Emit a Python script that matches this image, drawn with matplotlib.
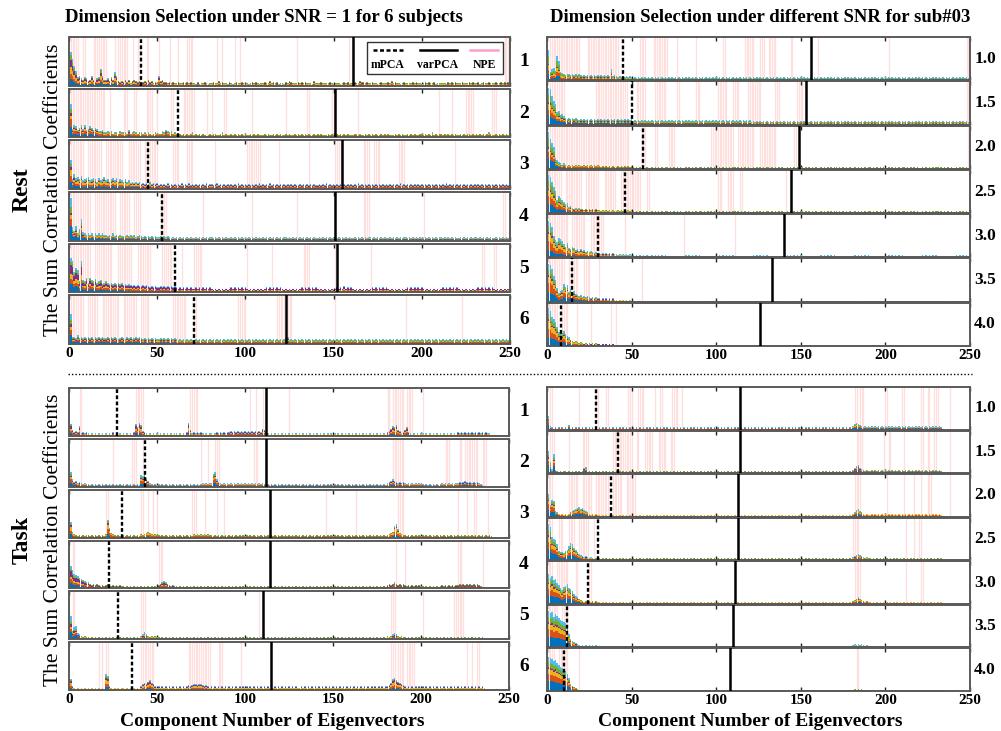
import numpy as np
import matplotlib.pyplot as plt
from matplotlib.patches import Rectangle
from matplotlib.lines import Line2D

plt.rcParams['font.family'] = ['Liberation Serif', 'DejaVu Serif']

# stacked colours (matlab default order)
COLORS = ['#0072BD', '#D95319', '#EDB120', '#7E2F8E', '#77AC30', '#4DBEEE']
PINK = '#ffdede'

# bar heights per component, one char per component (base 36, 1 unit = 2.5% of panel)
rest_subj_heights = [
    "smgc786576 4585367e85 56475b8434 3535245434 2343534232 8453323232 2322323232 2131223212 2322423221 3212322323 2123232122 3224232312 2132432223 2323222142 2232222321 2221232312 2322433232 2322123222 3242322123 2222323221 2323223122 2221323232 2232223232 2312322322 2322323232",
    "r7a968a7a6 7986875564 4545344354 4436345434 4343432343 3354654534 3232323234 2323232123 2332234232 2323232323 2232323222 3232232323 2232322323 2323232232 3232223232 2323232322 2332322323 2323223232 3222323232 2323232233 2323242323 3232323232 2323233232 3232323432 2323232323",
    "o8c9a8b789 a78986978a 7868979687 6867565656 4545464545 3434353434 3435343534 3434343534 4345343434 3434353434 3434343534 3435343434 3434343433 4343434343 3434353434 3434343434 3435343434 3434343434 3434343534 3434343434 3434343434 3435343434 3434343434 3434343434 3434343434",
    "zb8c6ai765 6564656565 5454645454 4454545345 4343434343 3434343232 3232323232 2323232323 3232323232 2323232323 2323232323 2323232323 2332323232 3232323232 2323232323 3232323232 2323232323 3232323232 2323232323 3232323232 2323232323 3232323232 2323232323 3232323232 2323232323",
    "sqhki9qa9c 8ca9b89a78 9878787878 6767656565 5656545454 4545454545 4343434343 3434343434 3232323232 3434343434 3232323232 3434343434 3232323232 3434343434 3232323232 3434353434 3232323232 3434343434 3232323232 3434343434 3232323232 3434343434 3232323232 3434343434 3232323232",
    "p665756565 6564656565 5656565456 5465645656 5454545454 4545454545 4343434343 3434343434 3434343434 3434343434 3434343434 3434343434 3456343434 3434343434 3434343434 3434343434 3434343434 3434343434 3434343434 3434343434 3434343434 3434343434 3434343434 3434343434 3434343434",
]
rest_subj_mpca = [41, 62, 45, 53, 60, 71]
rest_subj_varpca = [161, 151, 155, 151, 152, 123]
rest_subj_npe = [
    [(0, 5), (7, 9), (13, 21), (25, 26), (27, 33), (35, 36), (38, 40), (43, 45), (50, 51), (56, 57), (61, 62), (66, 70), (83, 84), (86, 87), (93, 94), (96, 97), (128, 129), (158, 159), (246, 249)],
    [(0, 20), (22, 23), (30, 33), (36, 38), (43, 47), (49, 50), (57, 59), (64, 71), (77, 78), (80, 81), (87, 89), (103, 104), (122, 123), (134, 136), (148, 150), (163, 164), (209, 210), (216, 217), (224, 229), (239, 242)],
    [(0, 8), (10, 18), (20, 30), (33, 40), (42, 50), (58, 62), (66, 70), (82, 83), (100, 108), (118, 119), (135, 136), (150, 154), (166, 170), (172, 176), (186, 190), (218, 219)],
    [(0, 12), (14, 26), (28, 34), (36, 40), (51, 55), (75, 76), (103, 104), (128, 129), (150, 151), (166, 170), (200, 201), (245, 247)],
    [(0, 12), (14, 24), (27, 35), (38, 46), (52, 58), (63, 64), (70, 75), (100, 101), (114, 115), (132, 136), (150, 151), (170, 171), (233, 235), (240, 242)],
    [(0, 8), (10, 16), (18, 28), (30, 38), (40, 45), (58, 66), (70, 72), (95, 100), (117, 126), (150, 151), (190, 191), (222, 223)],
]
rest_subj_shares = [
    [0.2, 0.15, 0.2, 0.2, 0.15, 0.1],
    [0.3, 0.25, 0.1, 0.1, 0.1, 0.15],
    [0.25, 0.2, 0.2, 0.1, 0.1, 0.15],
    [0.35, 0.15, 0.1, 0.05, 0.15, 0.2],
    [0.25, 0.15, 0.15, 0.25, 0.1, 0.1],
    [0.3, 0.15, 0.1, 0.1, 0.15, 0.2],
]

rest_snr_heights = [
    "s8ab9mi876 5665656565 4545454545 4545454a45 4343434343 2323232323 2323232323 2323232323 2323232323 2323232323 2323232323 2323232323 2323232323 2323232323 2323232323 2323232323 2323232323 2323232323 2323232323 2323232323 2323232323 2323232323 2323232323 2323232323 2323232323",
    "yxqmjcd9a8 6565656545 4545454545 4545454545 4545454545 3434343434 3434343434 3434343434 3434343434 3434343434 3434343434 3434343434 2323232323 2323232323 2323232323 2323232323 2323232323 2323232323 2323232323 2323232323 2323232323 2323232323 2323232323 2323232323 2323232323",
    "ysoka86545 4343434343 3434343434 3232323232 2323232323 2121212121 1212121212 2121212121 1212121212 2121212121 1212121212 2121212121 1212121212 2121212121 1212121212 2121212121 1212121212 2121212121 1212121212 2121212121 1212121212 2121212121 1212121212 2121212121 1212121212",
    "zxtokcgeca 8967545454 4343434343 3232323232 2323232323 2121212121 1212121212 2121212121 1212121212 2121212121 1212121212 2121212121 1212121212 2121212121 1212121212 2121212121 1212121212 2121212121 1212121212 2121212121 1212121212 2121212121 1212121212 2121212121 1212121212",
    "ywskgeihfc ad98a97868 6756565454 4343434343 3232323232 2121212121 1212121212 1111111111 1212121212 1111111111 1212121212 1111111111 1212121212 1111111111 1212121212 1111111111 1212121212 1111111111 1212121212 1111111111 1212121212 1111111111 1212121212 1111111111 1212121212",
    "zyuokd8abg ef9c8a7656 4545434343 3232323232 2121212121 1111111111 1111111111 1111111111 1111111111 1111111111 1111111111 1111111111 1111111111 1111111111 1111111111 1111111111 1111111111 1111111111 1111111111 1111111111 1111111111 1111111111 1111111111 1111111111 1111111111",
    "zwrpmiddce b986545434 3232323232 2121212121 1111111111 1111111111 1111111111 1111111111 1111111111 1111111111 1111111111 1111111111 1111111111 1111111111 1111111111 1111111111 1111111111 1111111111 1111111111 1111111111 1111111111 1111111111 1111111111 1111111111 1111111111",
]
rest_snr_mpca = [45, 50, 57, 46, 30, 15, 8]
rest_snr_varpca = [156, 153, 149, 144, 140, 133, 126]
rest_snr_npe = [
    [(1, 19), (23, 42), (54, 58), (62, 71), (76, 77), (87, 88), (103, 105), (116, 122), (125, 128), (130, 135), (143, 145), (159, 160), (201, 202), (247, 249)],
    [(1, 10), (28, 47), (52, 58), (63, 70), (76, 78), (87, 90), (100, 106), (109, 113), (118, 126), (134, 137), (147, 151), (247, 249)],
    [(1, 48), (55, 58), (63, 65), (71, 75), (96, 110), (112, 122), (125, 135), (145, 147), (248, 249)],
    [(0, 8), (10, 20), (22, 30), (33, 40), (43, 55), (58, 60), (100, 103), (106, 110), (113, 115), (140, 141)],
    [(0, 12), (14, 22), (25, 33), (45, 46), (80, 81), (110, 111)],
    [(0, 10), (12, 18), (21, 25), (30, 31), (55, 56)],
    [(0, 6), (8, 12), (17, 18), (25, 26), (37, 38), (40, 41)],
]
rest_snr_shares = [
    [0.2, 0.15, 0.15, 0.05, 0.25, 0.2],
    [0.25, 0.15, 0.15, 0.05, 0.2, 0.2],
    [0.3, 0.15, 0.1, 0.05, 0.2, 0.2],
    [0.25, 0.2, 0.15, 0.05, 0.2, 0.15],
    [0.2, 0.25, 0.2, 0.05, 0.15, 0.15],
    [0.25, 0.25, 0.15, 0.05, 0.15, 0.15],
    [0.25, 0.2, 0.2, 0.05, 0.15, 0.15],
]

task_subj_heights = [
    "a534382323 2121212121 2121312121 2121213a7b 9432121212 1212121212 2121213b52 3232321212 2123232323 3434343434 3434343436 5321212121 2121212121 2121212121 2121212121 2121212121 2121212121 2121212121 3468795423 5732121212 2121212121 2121212121 3232323232 3232323221",
    "c645343232 2121212121 2121212121 2121212121 a9b7532121 2121212121 2121212121 2121232323 3bc6432323 2323232323 2323232323 2121212121 2121212121 2121212121 2121212121 2121212121 2121212121 2121212121 3456543434 3232323232 2121212121 2323232323 3434543434 3432100000",
    "d532121212 2121212121 3f84321212 2121212121 3234543232 2121212121 2121212121 3232323232 2121212121 2121212121 2121212121 2121212121 2121212121 2121212121 2121212121 2121212121 2121212121 2121212121 2345ab7432 2121212121 2121212121 2121212121 2121212121 2121212121",
    "jfcba98765 5434343232 3432323232 2121212121 2121212121 3456543232 2121212121 2121212121 2121212121 2121212121 2121212121 2121212121 2121212121 2121212121 2121212121 2121212121 2121212121 2121212121 3434543434 3232323232 2121212121 2323232323 3434343434 3432100000",
    "j7ab543232 2121212121 2121212121 2121212121 3464323232 2121212121 2121212121 2121212121 2121212121 2121212121 2121212121 2121212121 2121212121 2121212121 2121212121 2121212121 2121212121 2121212121 3234543232 2121212121 2121212121 2121212121 2121212121 2121210000",
    "9321212121 2121212121 dc32121212 2121212121 3565786532 3232323232 3232323434 5545543432 3232323232 3232323232 3232323232 3232323232 3232323232 2323232323 2323232323 2323232323 2323232323 2323232323 3469a87654 3232323232 3232323232 3232323232 3232323232 3232321000",
]
task_subj_mpca = [27, 43, 30, 23, 28, 36]
task_subj_varpca = [112, 112, 114, 114, 110, 115]
task_subj_npe = [
    [(5, 7), (37, 42), (68, 73), (102, 103), (105, 106), (109, 110), (124, 125), (180, 182), (183, 190), (191, 195), (200, 201)],
    [(6, 7), (24, 25), (35, 38), (41, 42), (74, 75), (78, 79), (82, 85), (104, 107), (183, 190), (213, 216), (221, 223), (224, 232), (234, 237)],
    [(20, 22), (40, 42), (44, 45), (47, 48), (49, 50), (69, 72), (76, 77), (83, 84), (87, 88), (145, 146), (162, 163), (186, 190), (220, 221), (225, 226), (229, 231), (237, 238)],
    [(1, 3), (50, 53), (185, 186), (190, 191), (220, 223), (234, 235)],
    [(1, 3), (40, 43), (107, 108), (182, 185), (200, 201), (218, 224)],
    [(16, 17), (18, 19), (20, 22), (40, 48), (67, 80), (84, 87), (97, 98), (182, 185), (186, 190), (191, 196), (225, 226), (228, 229), (231, 233)],
]
task_subj_shares = [
    [0.2, 0.2, 0.2, 0.2, 0.1, 0.1],
    [0.25, 0.25, 0.15, 0.1, 0.1, 0.15],
    [0.2, 0.25, 0.25, 0.1, 0.1, 0.1],
    [0.25, 0.15, 0.1, 0.25, 0.1, 0.15],
    [0.3, 0.15, 0.1, 0.1, 0.1, 0.25],
    [0.2, 0.2, 0.25, 0.15, 0.1, 0.1],
]

task_snr_heights = [
    "d321212121 2141212121 2121212121 2121212121 2121212121 2121212121 2121212121 2121212121 2121212121 2121212121 2121212121 2121212121 2121212121 2121212121 2121212121 2121212121 2121212121 2121212121 3565432323 2323232323 2323232323 2323232323 2323232323 2321000000",
    "la4i321212 2121212121 2561212121 2121212121 3421212121 2121212121 2121212121 2121212121 2121212121 2121212121 2121212121 2121212121 2121212121 2121212121 2121212121 2121212121 2121212121 2121212121 3578543232 2323232323 2323232323 2323232323 2323232323 2321000000",
    "lbgf543232 3234567897 8654323232 2121212121 2121212121 2121212121 2121212121 2121212121 2121212121 2121212121 2121212121 2121212121 2121212121 2121212121 2121212121 2121212121 2121212121 2121212121 3467543232 2323232323 2323232323 2323232323 2323232323 2321000000",
    "yvmkjf9887 9adgfca865 4343232121 2121212121 2121212121 2121212121 2121212121 2121212121 2121212121 2121212121 2121212121 2121212121 2121212121 2121212121 2121212121 2121212121 2121212121 2121212121 3456543232 2121212121 2121212121 2121212121 2121212121 2121000000",
    "soqmnkifdg hjfec97654 3232323232 2121212121 2121212121 2121212121 2121212121 2121212121 2121212121 2121212121 2121212121 2121212121 2121212121 2121212121 2121212121 2121212121 2121212121 2121212121 3456543232 2121212121 2121212121 2121212121 2121212121 2121000000",
    "ywxtvusqpo nkd8654321 2121212121 1111111111 1111111111 1111111111 1111111111 1111111111 1111111111 1111111111 1111111111 1111111111 1111111111 1111111111 1111111111 1111111111 1111111111 1111111111 2323232121 1111111111 1111111111 1111111111 1111111111 1111000000",
    "wvustqonmk jgc7543211 1111111111 1111111111 1111111111 1111111111 1111111111 1111111111 1111111111 1111111111 1111111111 1111111111 1111111111 1111111111 1111111111 1111111111 1111111111 1111111111 1212121111 1111111111 1111111111 1111111111 1111111111 1111000000",
]
task_snr_mpca = [29, 42, 38, 30, 24, 12, 10]
task_snr_varpca = [114, 114, 113, 113, 111, 110, 108]
task_snr_npe = [
    [(1, 3), (18, 19), (28, 30), (34, 36), (47, 50), (53, 57), (63, 64), (66, 68), (73, 77), (79, 80), (181, 183), (184, 187), (199, 201), (209, 211), (220, 222), (224, 226), (228, 231), (237, 238)],
    [(1, 4), (12, 13), (20, 24), (38, 50), (52, 54), (57, 62), (65, 70), (72, 75), (182, 186), (198, 199), (201, 203), (210, 211), (220, 222), (224, 226), (228, 230), (237, 238)],
    [(0, 3), (12, 18), (20, 26), (28, 36), (38, 44), (46, 52), (181, 185), (200, 201), (210, 211), (216, 217), (220, 221), (224, 227), (237, 238)],
    [(0, 3), (6, 9), (12, 16), (18, 24), (27, 28), (180, 184), (211, 212), (216, 217), (219, 221)],
    [(0, 3), (5, 12), (16, 18), (24, 26), (181, 185), (211, 212), (220, 222)],
    [(0, 6), (8, 12)],
    [(0, 4), (6, 12), (18, 19), (182, 184)],
]
task_snr_shares = [
    [0.35, 0.2, 0.1, 0.05, 0.1, 0.2],
    [0.35, 0.2, 0.1, 0.05, 0.1, 0.2],
    [0.3, 0.25, 0.15, 0.05, 0.1, 0.15],
    [0.3, 0.2, 0.15, 0.05, 0.15, 0.15],
    [0.3, 0.2, 0.15, 0.05, 0.15, 0.15],
    [0.3, 0.2, 0.15, 0.05, 0.15, 0.15],
    [0.3, 0.2, 0.15, 0.05, 0.15, 0.15],
]

subj_labels = ['1', '2', '3', '4', '5', '6']
snr_labels = ['1.0', '1.5', '2.0', '2.5', '3.0', '3.5', '4.0']

W, H = 1001, 731
fig = plt.figure(figsize=(W / 100, H / 100), dpi=100)


def decode(s):
    return np.array([int(c, 36) for c in s.replace(' ', '')], dtype=float)


def panel(box, heights, shares, npe, m_dim, v_dim, last):
    x0, y0, x1, y1 = box
    ax = fig.add_axes([x0 / W, 1 - y1 / H, (x1 - x0) / W, (y1 - y0) / H])
    h = decode(heights)
    x = np.arange(len(h)) + 1
    for s, e in npe:
        for k in range(s, e):
            ax.axvline(k + 1, color=PINK, lw=0.9, zorder=0)
    bottom = np.zeros_like(h)
    for share, col in zip(shares, COLORS):
        seg = h * share
        ax.bar(x, seg, bottom=bottom.copy(), width=0.9, color=col, linewidth=0,
               antialiased=False, zorder=2)
        bottom += seg
    ax.axvline(m_dim, color='black', ls=(0, (1.6, 1.0)), lw=1.7, zorder=3)
    ax.axvline(v_dim, color='black', lw=1.8, zorder=3)
    ax.set_xlim(0, 250)
    ax.set_ylim(0, 40)
    ax.set_yticks([])
    ax.set_xticks([0, 50, 100, 150, 200, 250])
    ax.tick_params(axis='x', direction='in', top=True, length=3, width=1,
                   color='#222222', labelbottom=last, labelsize=11, pad=2)
    for lbl in ax.get_xticklabels():
        lbl.set_fontweight('bold')
    for sp in ax.spines.values():
        sp.set_color('#5a5a5a')
        sp.set_linewidth(1.4)
    return ax


def column(x0, x1, top, bot, gap, data, labels, lab_x, lab_size):
    heights, mp, vp, npe, shares = data
    n = len(heights)
    ph = (bot - top - gap * (n - 1)) / n
    for i in range(n):
        y0 = top + i * (ph + gap)
        panel((x0, y0, x1, y0 + ph), heights[i], shares[i], npe[i], mp[i], vp[i], i == n - 1)
        fig.text(lab_x / W, 1 - (y0 + ph / 2) / H, labels[i], ha='center', va='center',
                 fontsize=lab_size, fontweight='bold')


column(69, 510, 37, 344, 3,
       (rest_subj_heights, rest_subj_mpca, rest_subj_varpca, rest_subj_npe, rest_subj_shares),
       subj_labels, 524, 14)
column(547, 970, 37, 346, 1,
       (rest_snr_heights, rest_snr_mpca, rest_snr_varpca, rest_snr_npe, rest_snr_shares),
       snr_labels, 985, 12.5)
column(69, 509, 388, 690, 3,
       (task_subj_heights, task_subj_mpca, task_subj_varpca, task_subj_npe, task_subj_shares),
       subj_labels, 524, 14)
column(547, 970, 387, 691, 1,
       (task_snr_heights, task_snr_mpca, task_snr_varpca, task_snr_npe, task_snr_shares),
       snr_labels, 985, 12.5)

# titles and labels
fig.text(264 / W, 1 - 18 / H, 'Dimension Selection under SNR = 1 for 6 subjects',
         ha='center', va='center', fontsize=13.5, fontweight='bold')
fig.text(760 / W, 1 - 17 / H, 'Dimension Selection under different SNR for sub#03',
         ha='center', va='center', fontsize=13.5, fontweight='bold')
fig.text(22 / W, 1 - 190 / H, 'Rest', rotation=90, ha='center', va='center',
         fontsize=17, fontweight='bold')
fig.text(22 / W, 1 - 540 / H, 'Task', rotation=90, ha='center', va='center',
         fontsize=17, fontweight='bold')
for yc in (190, 540):
    fig.text(54 / W, 1 - yc / H, 'The Sum Correlation Coefficients', rotation=90,
             ha='center', va='center', fontsize=15.5)
for xc in (272, 750):
    fig.text(xc / W, 1 - 721 / H, 'Component Number of Eigenvectors',
             ha='center', va='center', fontsize=14, fontweight='bold')

# dotted separator between rest and task
fig.add_artist(Line2D([68 / W, 972 / W], [1 - 374 / H, 1 - 374 / H],
                      color='black', ls=(0, (1, 1.5)), lw=1))

# legend box drawn by hand (samples above labels, like the original)
fig.add_artist(Rectangle((367 / W, 1 - 74 / H), 136 / W, 32 / H, facecolor='white',
                         edgecolor='#333333', lw=1, zorder=5))
leg = [('mPCA', (0, (1.6, 1.0)), 'black', 373, 403, 388),
       ('varPCA', '-', 'black', 420, 457, 438),
       ('NPE', '-', '#ff9ecb', 470, 498, 484)]
for name, ls, col, lx0, lx1, tx in leg:
    fig.add_artist(Line2D([lx0 / W, lx1 / W], [1 - 50 / H, 1 - 50 / H], color=col,
                          ls=ls, lw=1.8, zorder=6))
    fig.text(tx / W, 1 - 65 / H, name, ha='center', va='center', fontsize=8.5,
             fontweight='bold', zorder=7)

fig.savefig('out.png', dpi=100)
